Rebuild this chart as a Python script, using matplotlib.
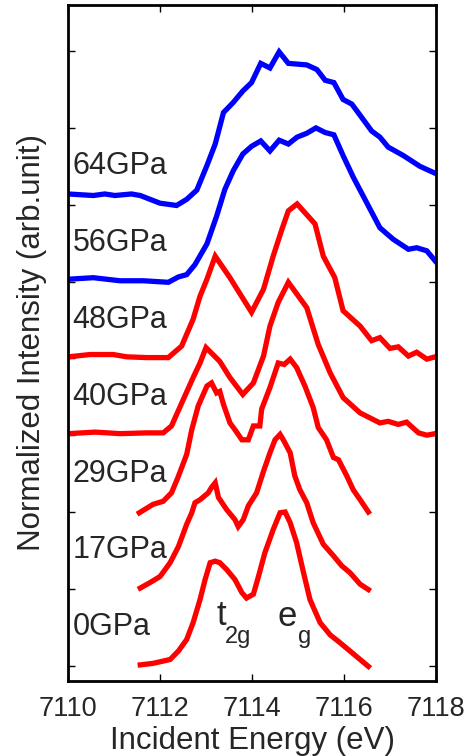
import matplotlib
matplotlib.use('Agg')
import matplotlib.pyplot as plt

plt.rcParams['font.family'] = ['Liberation Sans', 'DejaVu Sans']

TXT = '#262626'

# Spectra (energy in eV, stacked normalized intensity)
e_0 = [7111.57, 7111.85, 7112.22, 7112.40, 7112.58, 7112.72, 7112.87, 7112.98, 7113.09,
       7113.20, 7113.30, 7113.45, 7113.63, 7113.78, 7113.88, 7114.03, 7114.14, 7114.28,
       7114.46, 7114.61, 7114.72, 7114.83, 7114.97, 7115.12, 7115.26, 7115.48, 7115.70,
       7115.91, 7116.13, 7116.31, 7116.53]
i_0 = [0.01, 0.03, 0.08, 0.19, 0.34, 0.56, 0.86, 1.12, 1.34,
       1.36, 1.34, 1.25, 1.12, 0.95, 0.88, 0.93, 1.16, 1.47,
       1.77, 1.99, 2.00, 1.86, 1.60, 1.21, 0.86, 0.56, 0.40,
       0.30, 0.19, 0.10, -0.01]

e_17 = [7111.57, 7111.78, 7112.00, 7112.22, 7112.40, 7112.58, 7112.69, 7112.76, 7112.87,
        7113.05, 7113.12, 7113.20, 7113.27, 7113.45, 7113.63, 7113.70, 7113.81, 7113.92,
        7114.10, 7114.25, 7114.39, 7114.50, 7114.61, 7114.68, 7114.83, 7114.93, 7115.04,
        7115.19, 7115.33, 7115.55, 7115.77, 7115.95, 7116.13, 7116.35, 7116.53]
i_17 = [1.01, 1.08, 1.16, 1.34, 1.55, 1.84, 1.99, 2.12, 2.16,
        2.25, 2.32, 2.38, 2.19, 2.03, 1.90, 1.81, 1.90, 2.08,
        2.25, 2.53, 2.77, 2.94, 3.01, 2.94, 2.77, 2.47, 2.29,
        2.12, 1.86, 1.58, 1.43, 1.30, 1.21, 1.06, 0.99]

e_29 = [7111.55, 7111.85, 7112.07, 7112.25, 7112.39, 7112.58, 7112.69, 7112.83, 7113.02,
        7113.12, 7113.23, 7113.30, 7113.38, 7113.52, 7113.63, 7113.78, 7113.92, 7114.03,
        7114.17, 7114.21, 7114.39, 7114.57, 7114.70, 7114.83, 7114.97, 7115.15, 7115.33,
        7115.44, 7115.62, 7115.77, 7115.88, 7116.06, 7116.20, 7116.35, 7116.53]
i_29 = [1.99, 2.10, 2.14, 2.25, 2.45, 2.75, 3.07, 3.38, 3.64,
        3.68, 3.55, 3.57, 3.40, 3.16, 3.07, 2.94, 2.94, 3.12,
        3.12, 3.34, 3.62, 3.94, 3.92, 3.99, 3.88, 3.64, 3.36,
        3.10, 2.94, 2.71, 2.68, 2.47, 2.29, 2.16, 2.00]

e_40 = [7110.01, 7110.59, 7111.13, 7111.71, 7112.07, 7112.25, 7112.51, 7112.72, 7112.87,
        7113.00, 7113.30, 7113.52, 7113.80, 7114.03, 7114.25, 7114.39, 7114.57, 7114.79,
        7115.19, 7115.44, 7115.70, 7115.98, 7116.35, 7116.78, 7116.96, 7117.18, 7117.36,
        7117.62, 7117.80, 7117.98]
i_40 = [3.02, 3.04, 3.02, 3.03, 3.03, 3.12, 3.47, 3.75, 3.94,
        4.14, 3.96, 3.75, 3.53, 3.68, 4.03, 4.42, 4.73, 4.99,
        4.66, 4.18, 3.81, 3.49, 3.29, 3.16, 3.18, 3.14, 3.17,
        3.03, 3.00, 3.02]

e_48 = [7110.01, 7110.48, 7110.98, 7111.28, 7111.71, 7112.18, 7112.47, 7112.72, 7112.87,
        7113.02, 7113.20, 7113.52, 7113.99, 7114.25, 7114.46, 7114.65, 7114.79, 7114.98,
        7115.37, 7115.55, 7115.80, 7115.98, 7116.35, 7116.60, 7116.78, 7117.00, 7117.18,
        7117.40, 7117.58, 7117.80, 7117.98]
i_48 = [4.02, 4.05, 4.05, 4.02, 4.01, 4.01, 4.16, 4.51, 4.81,
        5.03, 5.33, 5.05, 4.60, 4.90, 5.33, 5.68, 5.92, 6.01,
        5.75, 5.33, 5.05, 4.62, 4.42, 4.23, 4.27, 4.13, 4.15,
        4.03, 4.08, 3.99, 4.02]

e_56 = [7110.00, 7110.55, 7111.13, 7111.64, 7112.18, 7112.40, 7112.58, 7112.76, 7113.02,
        7113.23, 7113.41, 7113.59, 7113.80, 7113.99, 7114.19, 7114.39, 7114.59, 7114.79,
        7114.98, 7115.19, 7115.39, 7115.59, 7115.78, 7115.98, 7116.20, 7116.49, 7116.78,
        7117.07, 7117.40, 7117.58, 7117.80, 7117.98]
i_56 = [5.03, 5.05, 5.01, 5.01, 4.99, 5.06, 5.09, 5.22, 5.49,
        5.85, 6.20, 6.44, 6.66, 6.76, 6.83, 6.70, 6.84, 6.79,
        6.88, 6.93, 7.00, 6.94, 6.91, 6.64, 6.36, 6.03, 5.70,
        5.55, 5.42, 5.44, 5.40, 5.27]

e_64 = [7110.00, 7110.55, 7110.80, 7111.02, 7111.38, 7111.57, 7112.00, 7112.36, 7112.58,
        7112.80, 7113.02, 7113.20, 7113.38, 7113.59, 7113.80, 7113.99, 7114.19, 7114.39,
        7114.59, 7114.79, 7115.19, 7115.41, 7115.59, 7115.78, 7115.98, 7116.17, 7116.38,
        7116.60, 7116.78, 7116.96, 7117.29, 7117.65, 7117.98]
i_64 = [6.14, 6.12, 6.14, 6.12, 6.14, 6.12, 6.02, 5.99, 6.07,
        6.19, 6.51, 6.79, 7.20, 7.33, 7.48, 7.59, 7.84, 7.78,
        7.99, 7.84, 7.82, 7.76, 7.62, 7.59, 7.37, 7.31, 7.14,
        6.96, 6.88, 6.75, 6.64, 6.50, 6.41]

pressures = ['0GPa', '17GPa', '29GPa', '40GPa', '48GPa', '56GPa', '64GPa']
label_y = [0.5, 1.5, 2.5, 3.5, 4.5, 5.5, 6.5]

fig = plt.figure(figsize=(4.71, 7.56), dpi=100)
ax = fig.add_axes([0.1444, 0.0992, 0.7813, 0.8942])

spectra = [(e_0, i_0, 'r'), (e_17, i_17, 'r'), (e_29, i_29, 'r'),
           (e_40, i_40, 'r'), (e_48, i_48, 'r'),
           (e_56, i_56, 'b'), (e_64, i_64, 'b')]
for e, i, c in spectra:
    ax.plot(e, i, color=c, lw=3.8, solid_joinstyle='miter')

for lab, y in zip(pressures, label_y):
    ax.text(7110.1, y, lab, fontsize=22, color=TXT, va='center', ha='left')

# orbital labels: main letter plus larger-than-mathtext subscript
ax.text(7113.22, 0.53, 't', fontsize=25, color=TXT, ha='left', va='baseline')
ax.text(7113.40, 0.30, '2g', fontsize=17, color=TXT, ha='left', va='baseline')
ax.text(7114.56, 0.52, 'e', fontsize=25, color=TXT, ha='left', va='baseline')
ax.text(7114.99, 0.30, 'g', fontsize=17, color=TXT, ha='left', va='baseline')

ax.set_xlim(7110, 7118)
ax.set_ylim(-0.2, 8.6)
ax.set_xticks([7110, 7112, 7114, 7116, 7118])
ax.set_yticks(range(9))
ax.set_yticklabels([])
ax.tick_params(direction='in', length=5, width=1, top=True, right=True,
               labelsize=19.5, labelcolor=TXT, pad=11)
for s in ax.spines.values():
    s.set_linewidth(2)

ax.set_xlabel('Incident Energy (eV)', fontsize=22.5, color=TXT, labelpad=3)
ax.set_ylabel('Normalized Intensity (arb.unit)', fontsize=22.5, color=TXT, labelpad=4)

fig.savefig('out.png', dpi=100)
